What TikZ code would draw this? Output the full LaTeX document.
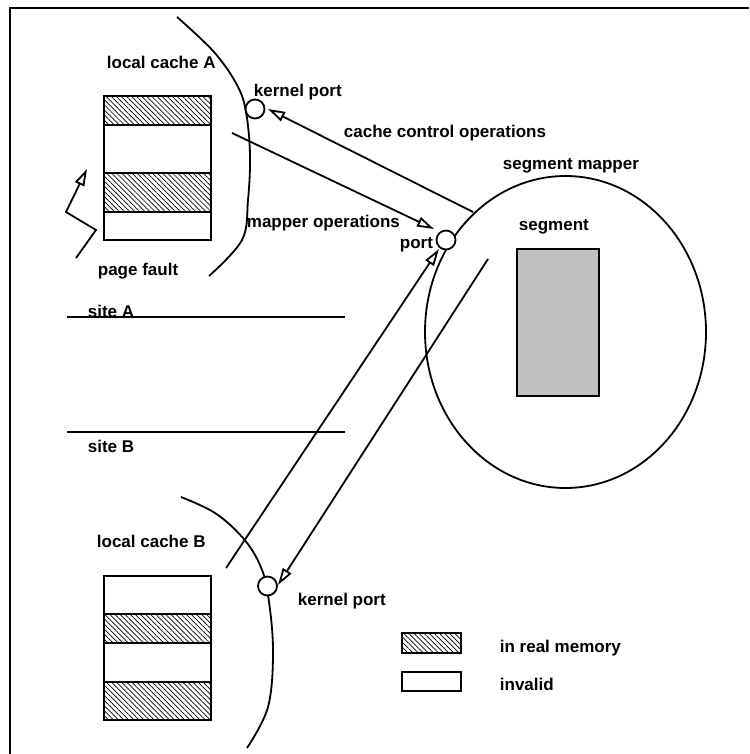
\documentclass[tikz,border=0pt]{standalone}
\usepackage{fontspec}
\setmainfont{Liberation Sans}
\usetikzlibrary{arrows.meta,patterns.meta}
\begin{document}
\begin{tikzpicture}[x=1pt,y=-1pt,line width=1.8pt,
  lbl/.style={font=\fontsize{17}{20}\selectfont\bfseries,inner sep=0pt,anchor=base west},
  hatch/.style={draw,pattern={Lines[angle=-45,distance=3.6pt,line width=0.7pt]}},
  cell/.style={draw,fill=white},
  port/.style={circle,draw,fill=white,minimum size=19pt,inner sep=0pt},
  oarrow/.style={-{Triangle[open,length=17pt,width=10pt,fill=white]}}]
\useasboundingbox (0,0) rectangle (749,754);
% frame
\draw[line width=2pt] (10,754) -- (10,8) -- (749,8);

% local cache A
\node[lbl] (lcA) at (106,69) {local cache A};
\draw[hatch] (104,96) rectangle (211,125);
\draw[cell] (104,125) rectangle (211,173);
\draw[hatch] (104,173) rectangle (211,212);
\draw[cell] (104,212) rectangle (211,240);
\draw plot[smooth,tension=0.6] coordinates {(177,17) (214,52) (237,85) (246,112) (250,155) (248,200) (242,240) (209,276)};
\node[lbl] (pf) at (97,275) {page fault};
\coordinate (pf0) at (76,258);
\coordinate (pf1) at (96,230);
\coordinate (pf2) at (66,212);
\coordinate (pf3) at (87,169);
\draw[oarrow] (pf0) -- (pf1) -- (pf2) -- (pf3);

% kernel port A
\node[port] (kpA) at (255,109) {};
\node[lbl] (kpAl) at (253,97) {kernel port};

% site lines
\draw (67,317) -- (345,317);
\node[lbl] (sA) at (87,317) {site A};
\draw (67,432) -- (345,432);
\node[lbl] (sB) at (87,452) {site B};

% segment mapper
\draw (565.5,332) ellipse [x radius=140.5, y radius=156];
\node[lbl] (smL) at (502,169) {segment mapper};
\node[lbl] (sgL) at (518,230) {segment};
\draw[fill={rgb,255:red,192;green,192;blue,192}] (517,249) rectangle (599,396);
\node[port] (mp) at (446,240) {};
\node[lbl] (mpL) at (399,248) {port};

% connectors
\coordinate (cc0) at (473,212);
\coordinate (cc1) at (268,109);
\draw[oarrow] (cc0) -- (cc1);
\node[lbl] (ccL) at (343,138) {cache control operations};
\coordinate (mo0) at (232,133);
\coordinate (mo1) at (434,229);
\draw[oarrow] (mo0) -- (mo1);
\node[lbl] (moL) at (246,227) {mapper operations};
\coordinate (bm0) at (226,568);
\coordinate (bm1) at (439,249);
\draw[oarrow] (bm0) -- (bm1);
\coordinate (mb0) at (488,259);
\coordinate (mb1) at (278,585);
\draw[oarrow] (mb0) -- (mb1);

% local cache B
\draw plot[smooth,tension=0.6] coordinates {(181,497) (215,513) (243,538) (260,565) (268,595) (273,650) (268,707) (247,748)};
\node[port] (kpB) at (267.5,586) {};
\node[lbl] (kpBl) at (297,605) {kernel port};
\node[lbl] (lcB) at (96,547) {local cache B};
\draw[cell] (104,576) rectangle (211,614);
\draw[hatch] (104,614) rectangle (211,643);
\draw[cell] (104,643) rectangle (211,682);
\draw[hatch] (104,682) rectangle (211,720);

% legend
\draw[hatch] (402,633) rectangle (461,653);
\node[lbl] (lg1) at (499,652) {in real memory};
\draw[cell] (402,672) rectangle (461,691);
\node[lbl] (lg2) at (499,690) {invalid};
\end{tikzpicture}
\end{document}
